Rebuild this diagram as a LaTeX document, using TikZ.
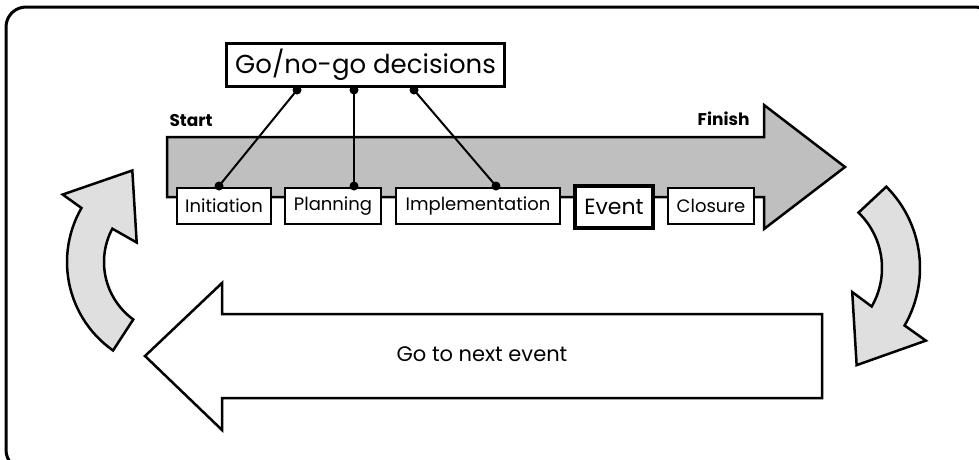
\documentclass[tikz,border=0pt]{standalone}
\usepackage{fontspec}
\setmainfont{Poppins}
\usetikzlibrary{positioning,calc}

\begin{document}
\begin{tikzpicture}[x=1pt,y=-1pt,
    stage/.style={draw, fill=white, line width=2pt, minimum height=36pt, inner sep=0pt, font=\fontsize{18}{21}\selectfont},
    dot/.style={circle, fill=black, inner sep=0pt, minimum size=9pt},
    link/.style={line width=2pt},
    bigarrow/.style={draw, line width=2.5pt, line join=miter},
    turn/.style={draw, fill=gray!25, line width=2.5pt, line join=miter}]
    \useasboundingbox (0,0) rectangle (979,459);

    % Frame
    \draw[line width=3pt, rounded corners=20pt] (6,7) rectangle (995,470);

    % Timeline
    \draw[bigarrow, fill=gray!50] (167,137) -- (764,137) -- (764,105) -- (845,167) -- (764,229) -- (764,197) -- (167,197) -- cycle;
    \node[anchor=base west, font=\fontsize{17}{20}\selectfont\bfseries] (start) at (166,126) {Start};
    \node[anchor=base east, font=\fontsize{17}{20}\selectfont\bfseries] (finish) at (753,125) {Finish};

    % Phases
    \foreach \name/\x/\w/\txt in {init/224/94/Initiation, plan/333/96/Planning, impl/478/164/Implementation, close/711/86/Closure} {
        \node[stage, minimum width=\w pt] (\name) at (\x,206) {\txt};
    }
    \node[stage, line width=4pt, minimum width=78pt, minimum height=42pt, font=\fontsize{22}{25}\selectfont] (event) at (614,207) {Event};

    % Decisions
    \node[draw, fill=white, line width=3pt, minimum width=278pt, minimum height=43pt, inner sep=0pt, font=\fontsize{26}{30}\selectfont] (go) at (365.5,65) {Go/no-go decisions};
    \foreach \i/\a/\b in {1/297/219, 2/354/354, 3/414/496} {
        \node[dot] (top\i) at (\a,90) {};
        \node[dot] (low\i) at (\b,186) {};
        \draw[link] (top\i.center) -- (low\i.center);
    }

    % Return
    \draw[bigarrow, fill=white] (822,314) -- (222,314) -- (222,283) -- (145,356) -- (222,430) -- (222,398) -- (822,398) -- cycle;
    \node[font=\fontsize{21}{24}\selectfont] (next) at (482,354) {Go to next event};

    % Curved arrows
    \draw[turn] plot[domain=235:150, samples=30] ({175+108*cos(\x)},{262-108*sin(\x)})
        -- ({175+131*cos(149)},{262-131*sin(149)})
        -- ({175+101*cos(115)},{262-101*sin(115)})
        -- ({175+43*cos(153)},{262-43*sin(153)})
        -- plot[domain=152:234, samples=30] ({175+71*cos(\x)},{262-71*sin(\x)})
        -- cycle;
    \draw[turn] plot[domain=45:-30, samples=30] ({805+115*cos(\x)},{268-115*sin(\x)})
        -- ({805+141*cos(-31)},{268-141*sin(-31)})
        -- ({805+110*cos(-62)},{268-110*sin(-62)})
        -- ({805+53*cos(-27)},{268-53*sin(-27)})
        -- plot[domain=-30:46, samples=30] ({805+77*cos(\x)},{268-77*sin(\x)})
        -- cycle;
\end{tikzpicture}
\end{document}
